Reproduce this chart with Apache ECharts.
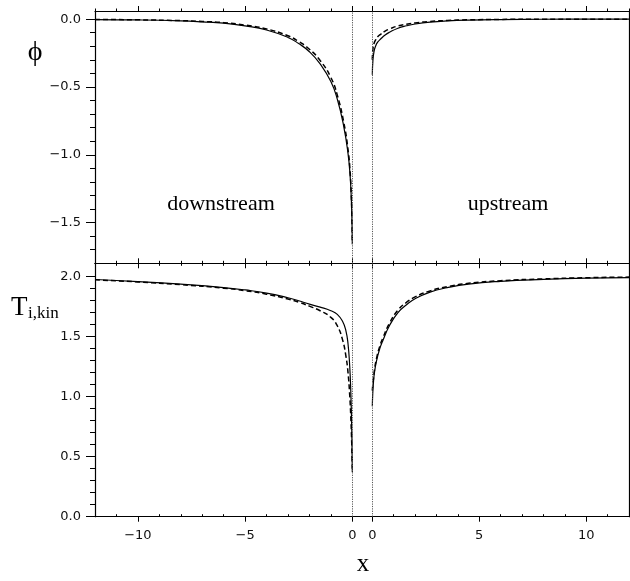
<!DOCTYPE html>
<html>
<head>
<meta charset="utf-8">
<script src="https://cdn.jsdelivr.net/npm/echarts@6/dist/echarts.min.js"></script>
<style>
  html, body { margin: 0; padding: 0; background: #fff; }
  #main { width: 630px; height: 581px; }
</style>
</head>
<body>
<div id="main"></div>
<script>
// potential, downstream side (x < 0)
var phiDownX      = [-12, -10, -8, -7, -6, -5, -4, -3, -2.5, -2, -1.5, -1, -0.7, -0.4, -0.2, -0.1, -0.05, -0.02, 0];
var phiDownSolid  = [-0.003, -0.006, -0.013, -0.02, -0.03, -0.05, -0.08, -0.135, -0.18, -0.24, -0.33, -0.46, -0.59, -0.79, -0.99, -1.16, -1.31, -1.46, -1.65];
var phiDownDashed = [-0.002, -0.005, -0.011, -0.017, -0.026, -0.044, -0.072, -0.123, -0.165, -0.222, -0.305, -0.43, -0.56, -0.76, -0.96, -1.13, -1.29, -1.45, -1.66];
// potential, upstream side (x > 0)
var phiUpX      = [0, 0.03, 0.08, 0.15, 0.25, 0.4, 0.6, 0.8, 1.2, 1.6, 2, 2.7, 3.5, 4.5, 6, 8, 10, 12];
var phiUpSolid  = [-0.41, -0.3, -0.24, -0.2, -0.17, -0.145, -0.117, -0.097, -0.067, -0.049, -0.036, -0.022, -0.013, -0.007, -0.003, -0.001, 0, 0];
var phiUpDashed = [-0.3, -0.22, -0.18, -0.155, -0.13, -0.11, -0.088, -0.073, -0.05, -0.037, -0.028, -0.017, -0.01, -0.005, -0.002, -0.001, 0, 0];
// kinetic ion temperature
var tDownX      = [-12, -10, -8, -6, -5, -4, -3, -2.5, -2, -1.5, -1, -0.7, -0.45, -0.3, -0.2, -0.12, -0.07, -0.03, -0.01, 0];
var tDownSolid  = [1.975, 1.958, 1.936, 1.908, 1.888, 1.862, 1.823, 1.798, 1.77, 1.745, 1.715, 1.685, 1.625, 1.55, 1.44, 1.25, 1.04, 0.76, 0.52, 0.37];
var tDownDashed = [1.972, 1.955, 1.932, 1.903, 1.882, 1.853, 1.812, 1.786, 1.753, 1.715, 1.66, 1.59, 1.47, 1.34, 1.2, 1.01, 0.83, 0.63, 0.48, 0.4];
var tUpX      = [0, 0.02, 0.05, 0.1, 0.2, 0.35, 0.5, 0.8, 1.2, 1.6, 2, 2.7, 3.5, 4.5, 6, 8, 10, 12];
var tUpSolid  = [0.92, 1.02, 1.11, 1.2, 1.3, 1.4, 1.47, 1.59, 1.7, 1.765, 1.815, 1.87, 1.907, 1.937, 1.96, 1.976, 1.986, 1.99];
var tUpDashed = [1.05, 1.09, 1.14, 1.22, 1.32, 1.42, 1.49, 1.61, 1.72, 1.785, 1.83, 1.88, 1.915, 1.943, 1.965, 1.98, 1.99, 1.995];

// axis ranges and ticks
var xDownRange = [-12, 0], xUpRange = [0, 12];
var phiRange = [-1.8, 0.06], tRange = [0, 2.11];
var xDownTicks = [-10, -5, 0], xUpTicks = [0, 5, 10];
var xDownMinor = [-12, -11, -9, -8, -7, -6, -4, -3, -2, -1];
var xUpMinor = [1, 2, 3, 4, 6, 7, 8, 9, 11, 12];
var phiTicks = [-1.5, -1, -0.5, 0];
var phiMinor = [-1.7, -1.6, -1.4, -1.3, -1.2, -1.1, -0.9, -0.8, -0.7, -0.6, -0.4, -0.3, -0.2, -0.1];
var tTicks = [0, 0.5, 1, 1.5, 2];
var tMinor = [0.1, 0.2, 0.3, 0.4, 0.6, 0.7, 0.8, 0.9, 1.1, 1.2, 1.3, 1.4, 1.6, 1.7, 1.8, 1.9];

function pairs(xs, ys) {
  return xs.map(function (x, i) { return [x, ys[i]]; });
}
function num(v) {
  return (v < 0 ? '\u2212' : '') + Math.abs(v);
}
function num1(v) {
  return (v < 0 ? '\u2212' : '') + Math.abs(v).toFixed(1);
}

var L = 95, M1 = 352.3, M2 = 372.3, R = 629, TOP = 11, MID = 263.3, BOT = 516.7;
var ink = '#000';
var labelFont = { color: '#111', fontFamily: 'DejaVu Sans', fontSize: 13 };

var rows = [
  { top: TOP, height: MID - TOP, range: phiRange, major: phiTicks, minor: phiMinor, fmt: num1,
    down: [phiDownX, phiDownSolid, phiDownDashed], up: [phiUpX, phiUpSolid, phiUpDashed] },
  { top: MID, height: BOT - MID, range: tRange, major: tTicks, minor: tMinor, fmt: num1,
    down: [tDownX, tDownSolid, tDownDashed], up: [tUpX, tUpSolid, tUpDashed] }
];
var cols = [
  { left: L, width: M1 - L, range: xDownRange, major: xDownTicks, minor: xDownMinor, key: 'down' },
  { left: M2, width: R - M2, range: xUpRange, major: xUpTicks, minor: xUpMinor, key: 'up' }
];

var grids = [], xAxes = [], yAxes = [], series = [];
function off() { return { show: false }; }

// frame: continuous box lines across the gap
rows.forEach(function (r) {
  var g = grids.length;
  grids.push({ left: L, top: r.top, width: R - L, height: r.height });
  ['top', 'bottom'].forEach(function (p) {
    xAxes.push({ gridIndex: g, type: 'value', position: p, min: 0, max: 1,
      axisLine: { show: true, onZero: false, lineStyle: { color: ink, width: 1.2 } },
      axisTick: off(), axisLabel: off(), splitLine: off() });
  });
  ['left', 'right'].forEach(function (p) {
    yAxes.push({ gridIndex: g, type: 'value', position: p, min: 0, max: 1,
      axisLine: { show: true, onZero: false, lineStyle: { color: ink, width: 1.2 } },
      axisTick: off(), axisLabel: off(), splitLine: off() });
  });
});

rows.forEach(function (r, ri) {
  var isTop = ri === 0;
  cols.forEach(function (c, ci) {
    var rect = { left: c.left, top: r.top, width: c.width, height: r.height };
    // major ticks + labels
    var g = grids.length;
    grids.push(Object.assign({}, rect));
    var xi = xAxes.length;
    xAxes.push({ gridIndex: g, type: 'value', position: 'bottom', min: c.range[0], max: c.range[1],
      axisLine: { show: false, onZero: false }, splitLine: off(),
      axisTick: { show: true, customValues: c.major, inside: isTop, length: 5, lineStyle: { color: ink, width: 1 } },
      axisLabel: Object.assign({ show: !isTop, customValues: c.major, margin: 12, formatter: num }, labelFont) });
    xAxes.push({ gridIndex: g, type: 'value', position: 'top', min: c.range[0], max: c.range[1],
      axisLine: { show: false, onZero: false }, splitLine: off(), axisLabel: off(),
      axisTick: { show: true, customValues: c.major, inside: !isTop, length: 5, lineStyle: { color: ink, width: 1 } } });
    var yi = yAxes.length;
    yAxes.push({ gridIndex: g, type: 'value', position: 'left', min: r.range[0], max: r.range[1],
      axisLine: { show: false, onZero: false }, splitLine: off(),
      axisTick: { show: ci === 0, customValues: r.major, length: 9, lineStyle: { color: ink, width: 1 } },
      axisLabel: Object.assign({ show: ci === 0, customValues: r.major, margin: 14, formatter: r.fmt }, labelFont) });

    // minor ticks
    var g2 = grids.length;
    grids.push(Object.assign({}, rect));
    xAxes.push({ gridIndex: g2, type: 'value', position: 'bottom', min: c.range[0], max: c.range[1],
      axisLine: { show: false, onZero: false }, splitLine: off(), axisLabel: off(),
      axisTick: { show: true, customValues: c.minor, inside: true, length: 2.5, lineStyle: { color: ink, width: 1 } } });
    xAxes.push({ gridIndex: g2, type: 'value', position: 'top', min: c.range[0], max: c.range[1],
      axisLine: { show: false, onZero: false }, splitLine: off(), axisLabel: off(),
      axisTick: { show: true, customValues: c.minor, inside: !isTop, length: 2.5, lineStyle: { color: ink, width: 1 } } });
    yAxes.push({ gridIndex: g2, type: 'value', position: 'left', min: r.range[0], max: r.range[1],
      axisLine: { show: false, onZero: false }, splitLine: off(), axisLabel: off(),
      axisTick: { show: ci === 0, customValues: r.minor, length: 5, lineStyle: { color: ink, width: 1 } } });

    var d = r[c.key];
    series.push({
      type: 'line', xAxisIndex: xi, yAxisIndex: yi, data: pairs(d[0], d[1]),
      showSymbol: false, smooth: 0.5, clip: false,
      lineStyle: { color: ink, width: 1.2 },
      markLine: { silent: true, symbol: 'none', label: off(),
        lineStyle: { type: [1.2, 1.2], color: '#555', width: 1 }, data: [{ xAxis: 0 }] }
    });
    series.push({
      type: 'line', xAxisIndex: xi, yAxisIndex: yi, data: pairs(d[0], d[2]),
      showSymbol: false, smooth: 0.5, clip: false,
      lineStyle: { color: ink, width: 1.5, type: [5, 3] }
    });
  });
});

var serif = '"Liberation Serif", "DejaVu Serif", serif';
var myChart = echarts.init(document.getElementById('main'));
myChart.setOption({
  animation: false,
  backgroundColor: '#fff',
  grid: grids,
  xAxis: xAxes,
  yAxis: yAxes,
  series: series,
  graphic: [
    { type: 'text', style: { text: 'ϕ', x: 35, y: 53, font: '28px ' + serif, fill: ink, align: 'center', verticalAlign: 'middle' } },
    { type: 'text', style: { text: 'T', x: 11, y: 321, font: '27px ' + serif, fill: ink, align: 'left', verticalAlign: 'bottom' } },
    { type: 'text', style: { text: 'i,kin', x: 28, y: 322, font: '17px ' + serif, fill: ink, align: 'left', verticalAlign: 'bottom' } },
    { type: 'text', style: { text: 'downstream', x: 221, y: 204, font: '22px ' + serif, fill: ink, align: 'center', verticalAlign: 'middle' } },
    { type: 'text', style: { text: 'upstream', x: 508, y: 204, font: '22px ' + serif, fill: ink, align: 'center', verticalAlign: 'middle' } },
    { type: 'text', style: { text: 'x', x: 363, y: 564, font: '25px ' + serif, fill: ink, align: 'center', verticalAlign: 'middle' } }
  ]
});
</script>
</body>
</html>
